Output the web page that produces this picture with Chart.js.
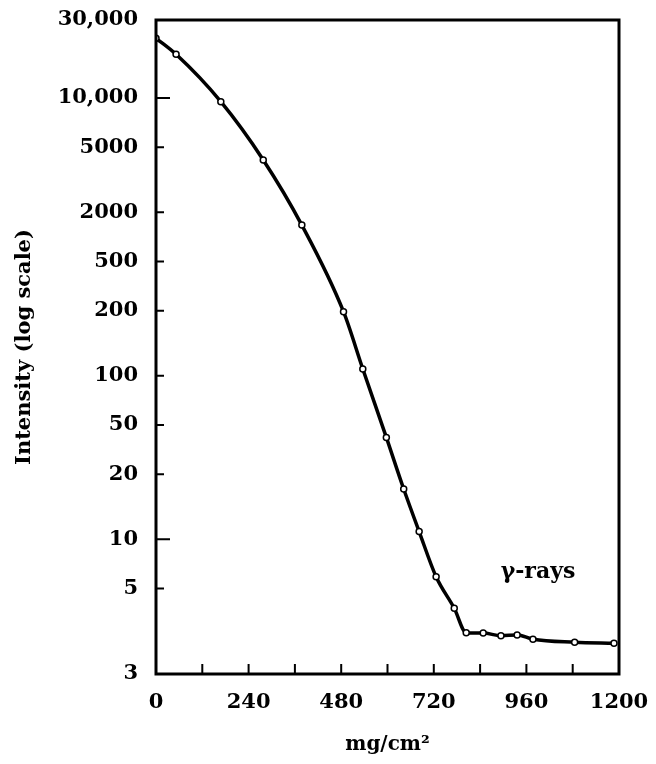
<!DOCTYPE html>
<html>
<head>
<meta charset="utf-8">
<script src="https://cdn.jsdelivr.net/npm/chart.js@4.4.1/dist/chart.umd.min.js"></script>
<style>
  html, body { margin: 0; padding: 0; background: #ffffff; }
  canvas { display: block; }
</style>
</head>
<body>
<canvas id="chart" width="656" height="764"></canvas>
<script>
const thickness = [0, 52, 168, 278, 378, 486, 536, 597, 642, 682, 726, 773, 804, 848, 894, 936, 977, 1085, 1187];
const intensity = [23200, 18500, 9500, 4180, 1670, 493, 220, 84, 40.6, 22.3, 11.8, 7.57, 5.37, 5.34, 5.14, 5.2, 4.89, 4.69, 4.62];

// y axis: tick positions on the log scale and the labels printed at them
const yTickValues = [30000, 10000, 5000, 2000, 1000, 500, 200, 100, 50, 20, 10, 3];
const yTickLabels = ["30,000", "10,000", "5000", "2000", "500", "200", "100", "50", "20", "10", "5", "3"];
const xLabelStep = 240;

const annotationText = "\u03B3-rays";
const annotationAt = [990, 12.6];

const ctx = document.getElementById("chart");

// frame, inward tick marks and the gamma-ray label
const frameAndTicks = {
    id: "frameAndTicks",
    afterDatasetsDraw(chart) {
        const { ctx, chartArea: a, scales: { x, y } } = chart;
        ctx.save();
        ctx.strokeStyle = "#000";
        ctx.lineWidth = 3;
        ctx.strokeRect(a.left, a.top, a.right - a.left, a.bottom - a.top);

        ctx.lineWidth = 2;
        ctx.beginPath();
        y.ticks.forEach((t, i) => {
            if (i === 0 || i === y.ticks.length - 1) return;
            const py = y.getPixelForValue(t.value);
            const len = (yTickLabels[i] === "10,000" || yTickLabels[i] === "10") ? 14 : 8;
            ctx.moveTo(a.left, py);
            ctx.lineTo(a.left + len, py);
        });
        x.ticks.forEach(t => {
            if (t.value <= x.min || t.value >= x.max) return;
            const px = x.getPixelForValue(t.value);
            ctx.moveTo(px, a.bottom);
            ctx.lineTo(px, a.bottom - 10);
        });
        ctx.stroke();

        ctx.fillStyle = "#000";
        ctx.font = 'bold 22px "DejaVu Serif"';
        ctx.textAlign = "center";
        ctx.textBaseline = "middle";
        ctx.fillText(annotationText, x.getPixelForValue(annotationAt[0]), y.getPixelForValue(annotationAt[1]));
        ctx.restore();
    },
};

new Chart(ctx, {
    type: "line",
    plugins: [frameAndTicks],
    data: {
        datasets: [
            {
                data: thickness.map((t, i) => ({ x: t, y: intensity[i] })),
                borderColor: "#000",
                borderWidth: 3.5,
                cubicInterpolationMode: "monotone",
                pointRadius: 3,
                pointBackgroundColor: "#fff",
                pointBorderColor: "#000",
                pointBorderWidth: 1.5,
            },
        ],
    },
    options: {
        responsive: false,
        animation: false,
        layout: { padding: { top: 20, right: 37, left: 0, bottom: 0 } },
        plugins: {
            legend: { display: false },
            tooltip: { enabled: false },
        },
        scales: {
            x: {
                type: "linear",
                min: 0,
                max: 1200,
                grid: { display: false, drawTicks: false },
                border: { display: false },
                ticks: {
                    stepSize: 120,
                    autoSkip: false,
                    maxRotation: 0,
                    padding: 16,
                    color: "#000",
                    font: { family: "DejaVu Serif", size: 21, weight: "bold" },
                    callback: v => (v % xLabelStep === 0 ? String(v) : ""),
                },
                title: {
                    display: true,
                    text: "mg/cm\u00B2",
                    color: "#000",
                    font: { family: "DejaVu Serif", size: 20, weight: "bold" },
                    padding: { top: 0, bottom: 7 },
                },
                afterFit: scale => {
                    scale.height = 90;
                    scale.paddingLeft = 0;
                    scale.paddingRight = 0;
                },
            },
            y: {
                type: "logarithmic",
                min: 3,
                max: 30000,
                grid: { display: false, drawTicks: false },
                border: { display: false },
                afterBuildTicks: scale => {
                    scale.ticks = yTickValues.map(v => ({ value: v }));
                },
                ticks: {
                    autoSkip: false,
                    padding: 18,
                    color: "#000",
                    font: { family: "DejaVu Serif", size: 21, weight: "bold" },
                    callback: (v, i) => yTickLabels[i],
                },
                title: {
                    display: true,
                    text: "Intensity (log scale)",
                    color: "#000",
                    font: { family: "DejaVu Serif", size: 21, weight: "bold" },
                    padding: { top: 12, bottom: 0 },
                },
                afterFit: scale => {
                    scale.width = 156;
                    scale.paddingTop = 0;
                    scale.paddingBottom = 0;
                },
            },
        },
    },
});
</script>
</body>
</html>
